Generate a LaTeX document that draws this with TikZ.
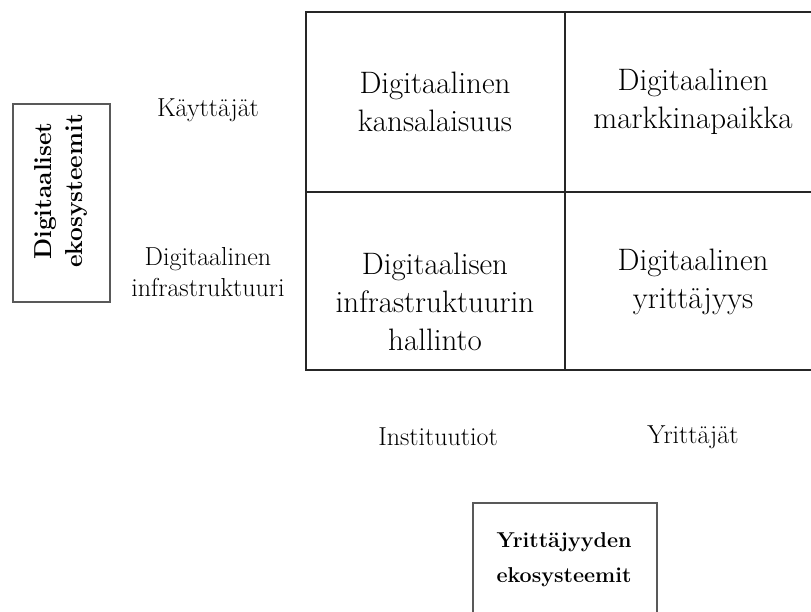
\documentclass[tikz,border=0pt]{standalone}
\usepackage{fontspec}
\begin{document}
\begin{tikzpicture}[x=1pt,y=-1pt,
  cell/.style={align=center,font=\fontsize{31}{38}\selectfont,inner sep=0pt},
  side/.style={align=center,font=\fontsize{26}{31}\selectfont,inner sep=0pt},
  grid/.style={line width=2pt,black!85},
  frame/.style={draw=black!65,line width=1.5pt}]
\useasboundingbox (0,0) rectangle (811,612);
\clip (0,0) rectangle (811,612);

% 2x2 matrix, right edge runs off the page
\coordinate (tl) at (306,12);
\coordinate (bl) at (306,370);
\draw[grid] (830,12) -- (tl) -- (bl) -- (830,370);
\draw[grid] (306,192) -- (830,192);
\draw[grid] (565,12) -- (565,370);

\node[cell] (kans) at (435,102) {Digitaalinen\\kansalaisuus};
\node[cell] (mark) at (693,102) {Digitaalinen\\markkinapaikka};
\node[cell] (hall) at (435,302) {Digitaalisen\\infrastruktuurin\\hallinto};
\node[cell] (yrit) at (693,282) {Digitaalinen\\yrittäjyys};

% row and column labels
\node[side] (kay) at (208,110) {Käyttäjät};
\node[side] (infra) at (208,272) {Digitaalinen\\infrastruktuuri};
\node[side] (inst) at (438,437) {Instituutiot};
\node[side] (yr) at (693,437) {Yrittäjät};

% ecosystem boxes
\draw[frame] (13,104) rectangle (110,302);
\node[rotate=90,align=center,inner sep=0pt,
      font=\bfseries\fontsize{24.5}{31}\selectfont] (digeko) at (61,191)
      {Digitaaliset\\ekosysteemit};
\draw[frame] (473,503) rectangle (657,630);
\node[align=center,inner sep=0pt,
      font=\bfseries\fontsize{21.5}{35}\selectfont] (yreko) at (564,560)
      {Yrittäjyyden\\ekosysteemit};
\end{tikzpicture}
\end{document}
